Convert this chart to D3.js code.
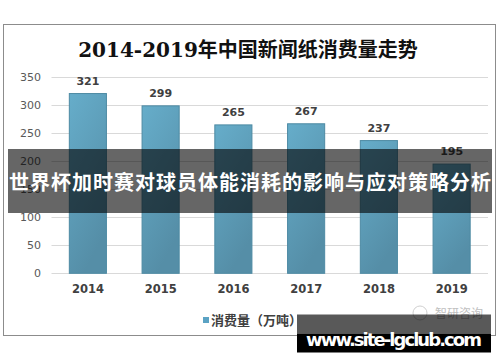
<!DOCTYPE html>
<html>
<head>
<meta charset="utf-8">
<script src="https://cdn.jsdelivr.net/npm/d3@7"></script>
<style>
  body { margin: 0; background: #fff; }
  svg { display: block; }
</style>
</head>
<body>
<svg id="chart" width="500" height="362"></svg>
<script>
// 数据
const years = ['2014', '2015', '2016', '2017', '2018', '2019'];
const consumption = [321, 299, 265, 267, 237, 195];
const yTicks = [0, 50, 100, 150, 200, 250, 300, 350];
const chartTitle = '2014-2019年中国新闻纸消费量走势';
const legendLabel = '消费量（万吨）';
const bannerText = '世界杯加时赛对球员体能消耗的影响与应对策略分析';
const siteText = 'www.site-lgclub.com';

const svg = d3.select('#chart');
const cjk = '"Noto Sans CJK SC", "DejaVu Sans", sans-serif';

// 渐变
const defs = svg.append('defs');
const grad = defs.append('linearGradient')
    .attr('id', 'barGrad')
    .attr('x1', 0).attr('y1', 0).attr('x2', 0.4).attr('y2', 1);
grad.append('stop').attr('offset', '0%').attr('stop-color', '#66adca');
grad.append('stop').attr('offset', '100%').attr('stop-color', '#558ea7');

// 外框
svg.append('rect')
    .attr('x', 3.5).attr('y', 24.5)
    .attr('width', 492).attr('height', 311)
    .attr('fill', '#fff')
    .attr('stroke', '#8c8c8c');

svg.append('text')
    .attr('x', 248).attr('y', 57)
    .attr('text-anchor', 'middle')
    .style('font-family', '"DejaVu Serif", "Noto Sans CJK SC", serif')
    .style('font-weight', 'bold')
    .style('font-size', '20px')
    .attr('fill', '#111')
    .text(chartTitle);

const x = d3.scaleBand().domain(years).range([51.5, 488]).paddingInner(0.49).paddingOuter(0.245);
const y = d3.scaleLinear().domain([0, 350]).range([273.3, 77.3]);

// 网格
svg.append('g')
    .selectAll('line')
    .data(yTicks)
    .join('line')
    .attr('x1', 51.5).attr('x2', 488)
    .attr('y1', d => Math.round(y(d)) + 0.5)
    .attr('y2', d => Math.round(y(d)) + 0.5)
    .attr('stroke', '#d9d9d9');

// y轴
const yAxis = svg.append('g')
    .attr('transform', 'translate(51,0)')
    .call(d3.axisLeft(y).tickValues(yTicks).tickSize(0).tickPadding(10));
yAxis.select('.domain').remove();
yAxis.selectAll('text')
    .style('font-family', '"DejaVu Sans", sans-serif')
    .style('font-size', '11px')
    .attr('fill', '#595959');

// 柱子
svg.append('g')
    .selectAll('rect')
    .data(consumption)
    .join('rect')
    .attr('x', (d, i) => x(years[i]))
    .attr('y', d => y(d))
    .attr('width', x.bandwidth())
    .attr('height', d => y(0) - y(d))
    .attr('fill', 'url(#barGrad)')
    .attr('stroke', '#4d8aa3')
    .attr('stroke-width', 1);

// 数值标签
svg.append('g')
    .selectAll('text')
    .data(consumption)
    .join('text')
    .attr('x', (d, i) => x(years[i]) + x.bandwidth() / 2)
    .attr('y', d => y(d) - 9)
    .attr('text-anchor', 'middle')
    .style('font-family', '"DejaVu Sans", sans-serif')
    .style('font-weight', 'bold')
    .style('font-size', '11px')
    .attr('fill', '#404040')
    .text(d => d);

// x轴
const xAxis = svg.append('g')
    .attr('transform', 'translate(0,273.3)')
    .call(d3.axisBottom(x).tickSize(0).tickPadding(12));
xAxis.select('.domain').remove();
xAxis.selectAll('text')
    .style('font-family', '"DejaVu Sans", sans-serif')
    .style('font-weight', 'bold')
    .style('font-size', '11.5px')
    .attr('fill', '#404040');

// 图例
svg.append('rect')
    .attr('x', 203).attr('y', 317)
    .attr('width', 6).attr('height', 6)
    .attr('fill', '#5ba3c4');
svg.append('text')
    .attr('x', 211).attr('y', 325)
    .style('font-family', cjk)
    .style('font-weight', 'bold')
    .style('font-size', '13px')
    .attr('fill', '#404040')
    .text(legendLabel);

// 水印
svg.append('circle')
    .attr('cx', 420).attr('cy', 313).attr('r', 7)
    .attr('fill', 'none').attr('stroke', '#d0d0d0');
svg.append('text')
    .attr('x', 435).attr('y', 318)
    .style('font-family', cjk)
    .style('font-size', '12px')
    .attr('fill', '#c0c0c0')
    .text('智研咨询');

// 横幅
svg.append('rect')
    .attr('x', 8).attr('y', 149)
    .attr('width', 484).attr('height', 64)
    .attr('fill', 'rgba(0,0,0,0.6)');
svg.append('text')
    .attr('x', 250).attr('y', 190)
    .attr('text-anchor', 'middle')
    .attr('textLength', 482)
    .style('font-family', cjk)
    .style('font-weight', 'bold')
    .style('font-size', '20px')
    .attr('fill', '#fff')
    .text(bannerText);

// 网址
svg.append('rect')
    .attr('x', 297).attr('y', 314.5)
    .attr('width', 194).attr('height', 19)
    .attr('fill', 'rgba(0,0,0,0.65)');
svg.append('rect')
    .attr('x', 297).attr('y', 333.5)
    .attr('width', 194).attr('height', 19)
    .attr('fill', '#000');
svg.append('text')
    .attr('x', 394).attr('y', 346)
    .attr('text-anchor', 'middle')
    .attr('textLength', 176)
    .style('font-family', '"DejaVu Sans", sans-serif')
    .style('font-weight', 'bold')
    .style('font-size', '18px')
    .attr('fill', '#fff')
    .text(siteText);
</script>
</body>
</html>
